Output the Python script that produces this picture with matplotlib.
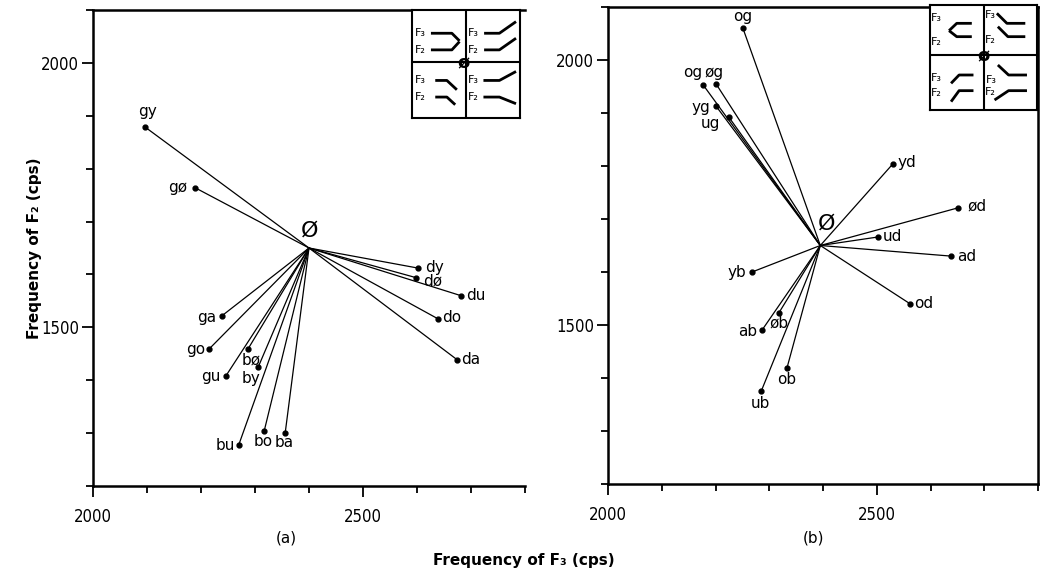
import matplotlib.pyplot as plt
from matplotlib.ticker import MultipleLocator

# (a) ∅ + consonant: end points of F3/F2 loci
a_labels = ["gy", "gø", "ga", "go", "gu", "bø", "by", "bu", "bo", "ba",
            "dy", "dø", "du", "do", "da"]
a_f3 = [2096, 2189, 2239, 2215, 2246, 2287, 2306, 2270, 2317, 2356,
        2602, 2598, 2681, 2639, 2674]
a_f2 = [1879, 1764, 1522, 1459, 1408, 1459, 1425, 1278, 1304, 1301,
        1612, 1594, 1560, 1516, 1439]
a_center = (2400, 1650)

# (b) vowel + consonant
b_labels = ["og", "og", "øg", "yg", "ug", "yd", "ød", "ud", "ad", "yb",
            "od", "øb", "ab", "ob", "ub"]
b_f3 = [2251, 2177, 2201, 2201, 2225, 2530, 2651, 2502, 2638, 2268,
        2562, 2318, 2287, 2333, 2285]
b_f2 = [2060, 1953, 1955, 1913, 1892, 1804, 1721, 1666, 1630, 1600,
        1540, 1523, 1491, 1419, 1375]
b_center = (2395, 1650)

# label offsets (pixels) for each point
a_off = [(3, 15), (-17, 0), (-15, -2), (-13, 0), (-15, -1), (3, -11), (-7, -11),
         (-13, -1), (-1, -11), (-1, -10), (16, 1), (17, -3), (15, 0), (14, 1), (14, 0)]
b_off = [(0, 12), (-10, 12), (-2, 11), (-15, -1), (-18, -6), (14, 1), (19, 2),
         (15, 1), (16, 0), (-15, 0), (14, 0), (0, -10), (-15, -2), (0, -12), (-1, -12)]

fig = plt.figure(figsize=(10.4, 5.74), dpi=100)
ax_a = fig.add_axes([93/1040, 1-486/574, 432/1040, 476/574])
ax_b = fig.add_axes([608/1040, 1-484/574, 430/1040, 477/574])


def panel(ax, labels, f3, f2, center, offs, sym_off):
    for lab, x, y, off in zip(labels, f3, f2, offs):
        ax.plot([center[0], x], [center[1], y], color="black", lw=0.9)
        ax.plot(x, y, "o", color="black", ms=3.5)
        ax.annotate(lab, (x, y), xytext=off, textcoords="offset pixels",
                    ha="center", va="center", fontsize=11)
    ax.annotate("Ø", center, xytext=sym_off, textcoords="offset pixels",
                ha="center", va="center", fontsize=16)
    ax.set_xlim(2000, 2800)
    ax.set_ylim(1200, 2100)
    ax.xaxis.set_minor_locator(MultipleLocator(100))
    ax.yaxis.set_minor_locator(MultipleLocator(100))
    ax.set_yticks([1500, 2000])
    ax.set_xticks([2000, 2500])
    ax.tick_params(which="major", length=8, width=1.3, labelsize=12)
    ax.tick_params(which="minor", length=5, width=1.3)
    ax.tick_params(axis="x", which="major", pad=8)
    ax.tick_params(axis="y", which="major", pad=2)
    for t in ax.get_xticklabels() + ax.get_yticklabels():
        t.set_fontstretch("condensed")
    for s in ax.spines.values():
        s.set_linewidth(1.8)


panel(ax_a, a_labels, a_f3, a_f2, a_center, a_off, (1, 17))
panel(ax_b, b_labels, b_f3, b_f2, b_center, b_off, (6, 22))
ax_a.spines["right"].set_visible(False)

ax_a.set_ylabel("Frequency of F₂ (cps)", fontsize=11, fontweight="bold", labelpad=-1)
fig.text(286/1040, 1-538/574, "(a)", ha="center", va="center", fontsize=11)
fig.text(814/1040, 1-538/574, "(b)", ha="center", va="center", fontsize=11)
fig.text(524/1040, 1-560/574, "Frequency of F₃ (cps)", ha="center", va="center",
         fontsize=11, fontweight="bold")


# schematic formant-transition keys
def key(rect, xlim, ylim, vline, hline, texts, sketches, center):
    ins = fig.add_axes(rect)
    ins.set_xlim(*xlim)
    ins.set_ylim(*ylim)
    ins.set_xticks([])
    ins.set_yticks([])
    for s in ins.spines.values():
        s.set_linewidth(1.5)
    ins.axvline(vline, color="black", lw=1.5)
    ins.axhline(hline, color="black", lw=1.5)
    for (x, y), t in texts:
        ins.text(x, y, t, ha="center", va="center", fontsize=8)
    for pts in sketches:
        xs, ys = zip(*pts)
        ins.plot(xs, ys, color="black", lw=2, solid_capstyle="butt")
    ins.text(center[0], center[1], "ø", ha="center", va="center", fontsize=13,
             fontweight="bold")


key([412/1040, 1-118/574, 108/1040, 108/574], (5, 330), (325, 0), 167, 155,
    [((30, 70), "F₃"), ((30, 120), "F₂"), ((190, 70), "F₃"), ((190, 120), "F₂"),
     ((30, 212), "F₃"), ((30, 262), "F₂"), ((190, 212), "F₃"), ((190, 262), "F₂")],
    [[(62, 70), (125, 70), (148, 93)], [(62, 120), (125, 120), (148, 95)],
     [(222, 70), (268, 70), (318, 35)], [(222, 120), (268, 120), (318, 85)],
     [(75, 212), (110, 212), (140, 240)], [(75, 262), (110, 262), (135, 285)],
     [(220, 212), (268, 212), (318, 185)], [(220, 262), (268, 262), (318, 282)]],
    (160, 160))

key([930/1040, 1-110/574, 107/1040, 105/574], (15, 335), (330, 15), 175, 165,
    [((35, 55), "F₃"), ((35, 125), "F₂"), ((195, 45), "F₃"), ((195, 120), "F₂"),
     ((35, 235), "F₃"), ((35, 280), "F₂"), ((198, 240), "F₃"), ((195, 275), "F₂")],
    [[(140, 70), (95, 70), (72, 92)], [(140, 110), (95, 110), (72, 92)],
     [(215, 40), (245, 70), (300, 70)], [(218, 80), (248, 110), (300, 110)],
     [(78, 250), (102, 225), (145, 225)], [(78, 305), (102, 272), (145, 272)],
     [(218, 195), (250, 225), (305, 225)], [(208, 300), (250, 272), (305, 272)]],
    (175, 168))

plt.savefig("out.png", dpi=100)
